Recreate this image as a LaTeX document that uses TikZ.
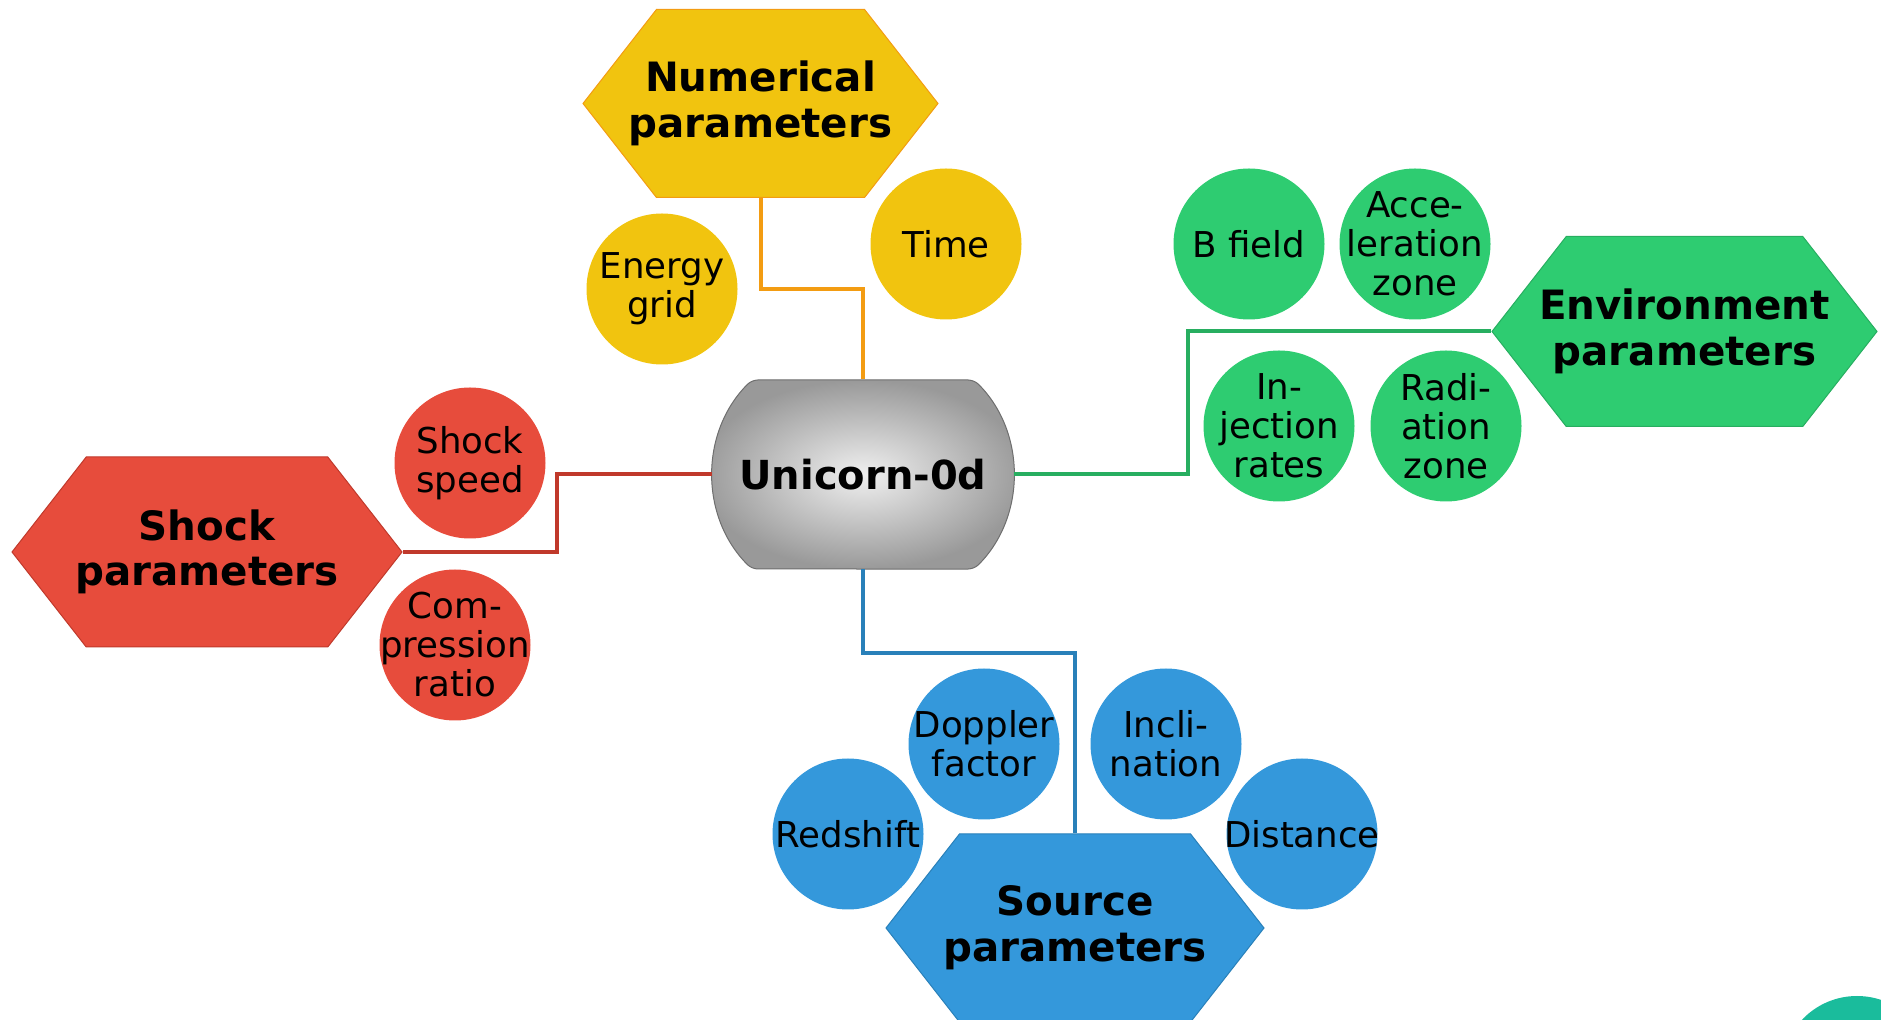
\documentclass[tikz,border=0pt]{standalone}
\usepackage{fontspec}
\setmainfont{DejaVu Sans}
\usetikzlibrary{shapes.symbols,shapes.misc}

\definecolor{numfill}{HTML}{F1C40F}
\definecolor{numline}{HTML}{F39C12}
\definecolor{shockfill}{HTML}{E74C3C}
\definecolor{shockline}{HTML}{C0392B}
\definecolor{envfill}{HTML}{2ECC71}
\definecolor{envline}{HTML}{27AE60}
\definecolor{srcfill}{HTML}{3498DB}
\definecolor{srcline}{HTML}{2980B9}
\definecolor{extrafill}{HTML}{1ABC9C}
\definecolor{coreline}{HTML}{6E6E6E}

\begin{document}
\begin{tikzpicture}[x=0.5pt, y=-0.5pt]

\tikzstyle{hexbox}=[signal, signal to=east and west, signal pointer angle=104, inner xsep=-60pt, inner ysep=0pt, align=center, line width=0.5pt, font=\fontsize{20.2}{22.8}\selectfont\bfseries]
\tikzstyle{ball}=[circle, minimum size=75.5pt, inner sep=-25pt, align=center, font=\fontsize{17.8}{19.5}\selectfont]
\tikzstyle{corebox}=[rounded rectangle, rounded rectangle arc length=90, rounded corners=3pt, minimum width=157pt, minimum height=94.5pt, inner color=gray!12, outer color=gray!80, draw=coreline, line width=0.5pt, font=\fontsize{20}{22}\selectfont\bfseries]
\tikzstyle{link}=[line width=2pt]

\useasboundingbox (0,0) rectangle (1881,1020);

% centre
\node (core) [corebox] at (863,474.5) {Unicorn-0d};

% parameter groups
\node (num) [hexbox, fill=numfill, draw=numline, minimum width=177.5pt, minimum height=94pt] at (760.5,103.5) {Numerical\\parameters};
\node (shock) [hexbox, fill=shockfill, draw=shockline, minimum width=195pt, minimum height=95pt] at (207,552) {Shock\\parameters};
\node (env) [hexbox, fill=envfill, draw=envline, minimum width=192.5pt, minimum height=95pt] at (1684.5,331.5) {Environment\\parameters};
\node (src) [hexbox, fill=srcfill, draw=srcline, minimum width=189pt, minimum height=94pt] at (1075,928) {Source\\parameters};

% numerical
\node (egrid) [ball, fill=numfill] at (662,289) {Energy\\grid};
\node (time) [ball, fill=numfill] at (946,244) {Time};

% environment
\node (bfield) [ball, fill=envfill] at (1249,244) {B field};
\node (acczone) [ball, fill=envfill] at (1415,244) {Acce-\\leration\\zone};
\node (inject) [ball, fill=envfill] at (1279,426) {In-\\jection\\rates};
\node (radzone) [ball, fill=envfill] at (1446,426) {Radi-\\ation\\zone};

% shock
\node (speed) [ball, fill=shockfill] at (470,463) {Shock\\speed};
\node (compr) [ball, fill=shockfill] at (455,645) {Com-\\pression\\ratio};

% source
\node (doppler) [ball, fill=srcfill] at (984,744) {Doppler\\factor};
\node (incl) [ball, fill=srcfill] at (1166,744) {Incli-\\nation};
\node (redshift) [ball, fill=srcfill] at (848,834) {Redshift};
\node (dist) [ball, fill=srcfill] at (1302,834) {Distance};

\node (extra) [ball, fill=extrafill] at (1857,1071.5) {};

\draw [link, numline] (num.south) -- ++(0,91) -| (core.north);
\draw [link, shockline] (core.west) -- ++(-155,0) |- (shock.east);
\draw [link, envline] (core.east) -- ++(174,0) |- (env.west);
\draw [link, srcline] (core.south) -- ++(0,84) -| (src.north);

\end{tikzpicture}
\end{document}
